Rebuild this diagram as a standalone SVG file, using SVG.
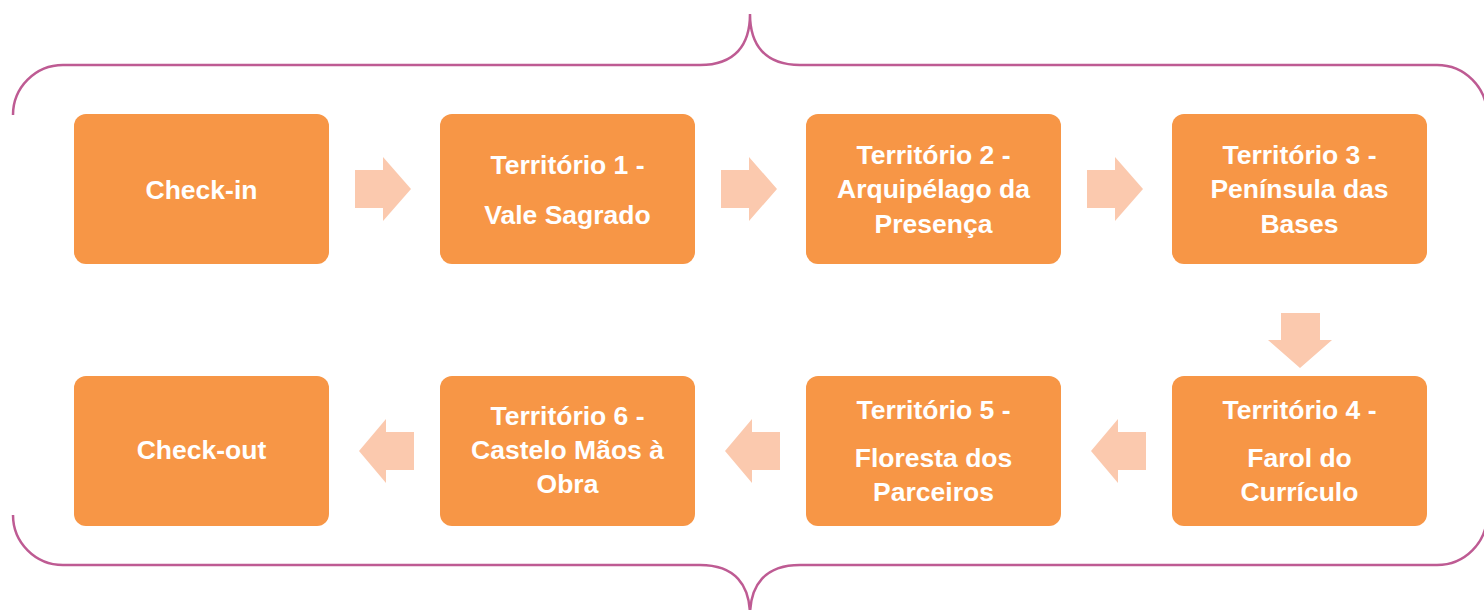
<svg xmlns="http://www.w3.org/2000/svg" width="1484" height="610" viewBox="0 0 1484 610">
<style>
.box{fill:#F79646}
.t{font-family:"Liberation Sans",Arial,sans-serif;font-weight:bold;font-size:26.5px;fill:#FFFFFF;text-anchor:middle}
.arr{fill:#FBC9AE}
.brace{fill:none;stroke:#BE5B93;stroke-width:2.5}
</style>
<rect width="1484" height="610" fill="#FFFFFF"/>
<g id="braces">
<path class="brace" d="M13,115 A50,50 0 0 1 63,65 L700,65 C735,65 750,45 750,14 C750,45 765,65 800,65 L1437,65 A50,50 0 0 1 1487,115"/>
<path class="brace" d="M13,515 A50,50 0 0 0 63,565 L700,565 C735,565 750,585 750,616 C750,585 765,565 800,565 L1437,565 A50,50 0 0 0 1487,515"/>
</g>
<g id="connectors">
<polygon class="arr" points="355,170 383,170 383,157 411,189 383,221 383,208 355,208"/>
<polygon class="arr" points="721,170 749,170 749,157 777,189 749,221 749,208 721,208"/>
<polygon class="arr" points="1087,170 1115,170 1115,157 1143,189 1115,221 1115,208 1087,208"/>
<polygon class="arr" points="1281,313 1320,313 1320,340 1332,340 1300,368 1268,340 1281,340"/>
<polygon class="arr" points="1146,432 1118,432 1118,419 1091,451 1118,483 1118,470 1146,470"/>
<polygon class="arr" points="780,432 752,432 752,419 725,451 752,483 752,470 780,470"/>
<polygon class="arr" points="414,432 386,432 386,419 359,451 386,483 386,470 414,470"/>
</g>
<g id="checkin"><rect class="box" x="74" y="114" width="255" height="150" rx="12"/><text class="t" x="201.5" y="199">Check-in</text></g>
<g id="t1"><rect class="box" x="440" y="114" width="255" height="150" rx="12"/><text class="t" x="567.5" y="174">Território 1 -</text><text class="t" x="567.5" y="224">Vale Sagrado</text></g>
<g id="t2"><rect class="box" x="806" y="114" width="255" height="150" rx="12"/><text class="t" x="933.5" y="164">Território 2 -</text><text class="t" x="933.5" y="198">Arquipélago da</text><text class="t" x="933.5" y="233">Presença</text></g>
<g id="t3"><rect class="box" x="1172" y="114" width="255" height="150" rx="12"/><text class="t" x="1299.5" y="164">Território 3 -</text><text class="t" x="1299.5" y="198">Península das</text><text class="t" x="1299.5" y="233">Bases</text></g>
<g id="t4"><rect class="box" x="1172" y="376" width="255" height="150" rx="12"/><text class="t" x="1299.5" y="419">Território 4 -</text><text class="t" x="1299.5" y="467">Farol do</text><text class="t" x="1299.5" y="501">Currículo</text></g>
<g id="t5"><rect class="box" x="806" y="376" width="255" height="150" rx="12"/><text class="t" x="933.5" y="419">Território 5 -</text><text class="t" x="933.5" y="467">Floresta dos</text><text class="t" x="933.5" y="501">Parceiros</text></g>
<g id="t6"><rect class="box" x="440" y="376" width="255" height="150" rx="12"/><text class="t" x="567.5" y="425">Território 6 -</text><text class="t" x="567.5" y="459">Castelo Mãos à</text><text class="t" x="567.5" y="493">Obra</text></g>
<g id="checkout"><rect class="box" x="74" y="376" width="255" height="150" rx="12"/><text class="t" x="201.5" y="459">Check-out</text></g>
</svg>
